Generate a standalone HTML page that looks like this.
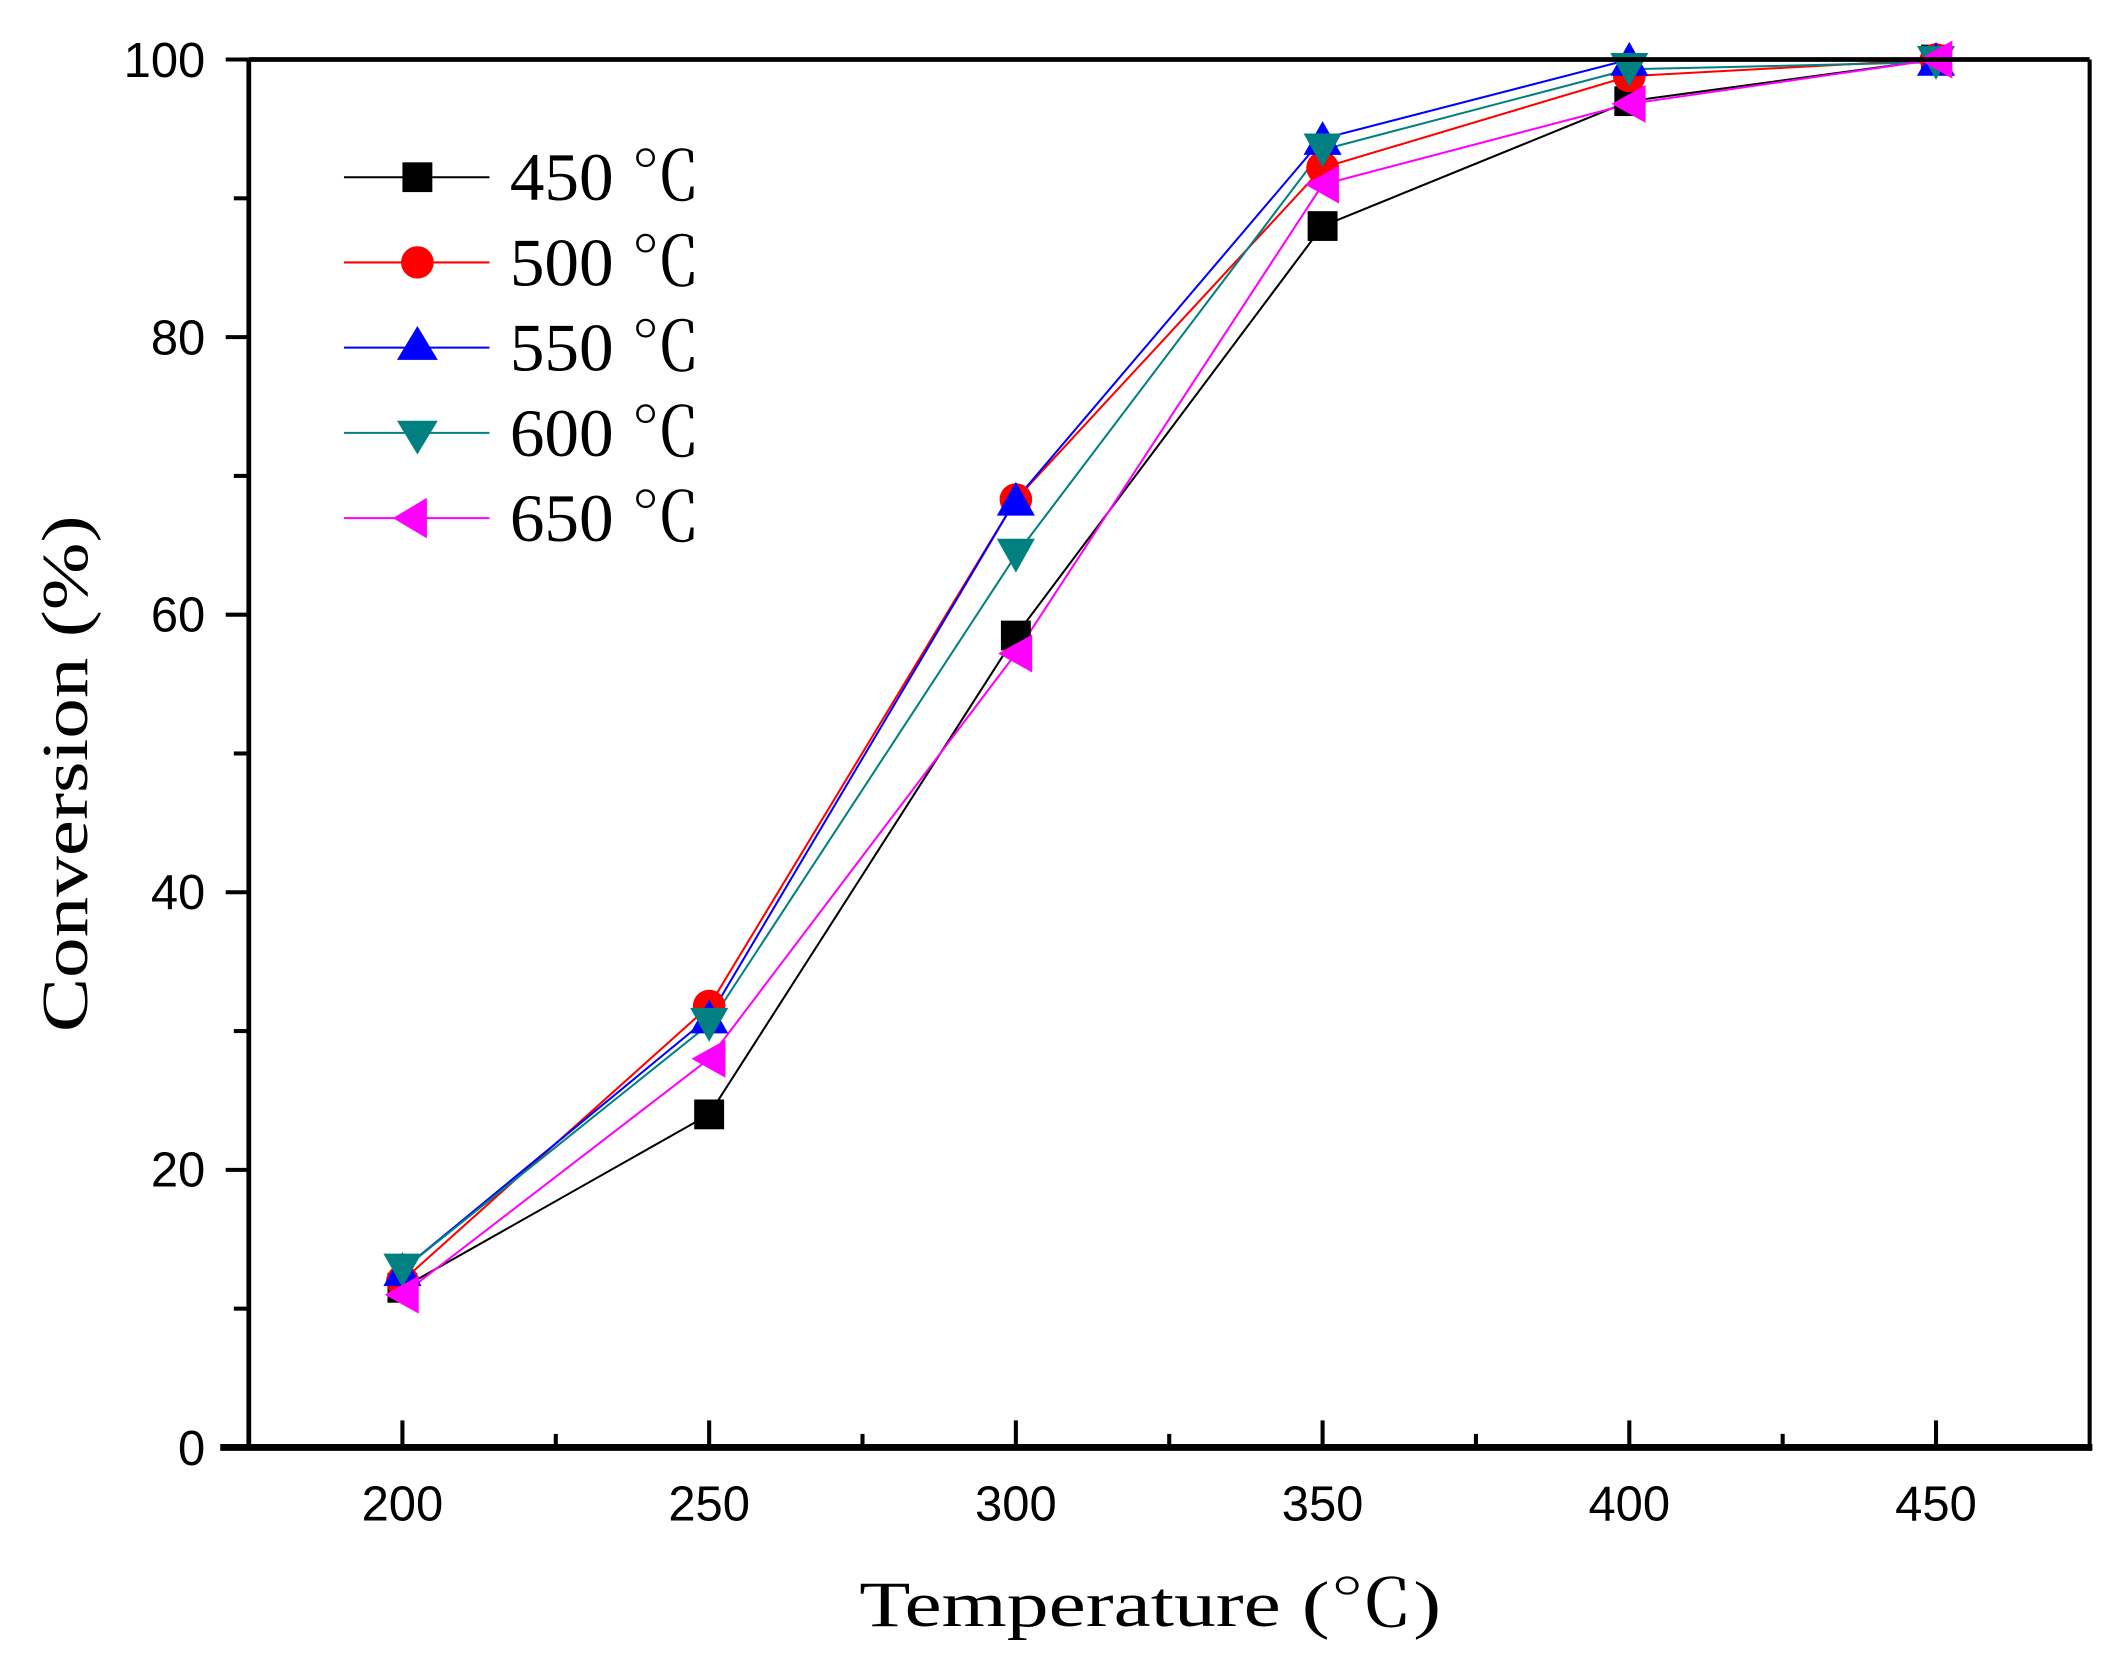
<!DOCTYPE html>
<html><head><meta charset="utf-8"><style>html,body{margin:0;padding:0;background:#fff}svg{display:block}</style></head>
<body>
<svg width="2125" height="1672" viewBox="0 0 1563 1236" preserveAspectRatio="none" xmlns="http://www.w3.org/2000/svg">
<rect width="1563" height="1236" fill="#fff"/>
<g id="data" fill="none" stroke-width="1.5">
<polyline stroke="#000" points="296,952 521.6,823.8 747.2,469.8 972.8,167.1 1198.4,74.8 1424,44"/>
<polyline stroke="#f00" points="296,946.9 521.6,743.7 747.2,369.2 972.8,124 1198.4,56.3 1424,44"/>
<polyline stroke="#00f" points="296,938.7 521.6,751.9 747.2,369.2 972.8,102.5 1198.4,44 1424,44"/>
<polyline stroke="#008080" points="296,938.7 521.6,757.1 747.2,410.3 972.8,110.7 1198.4,51.2 1424,46"/>
<polyline stroke="#f0f" points="296,957.1 521.6,782.7 747.2,483.1 972.8,136.4 1198.4,76.8 1424,44"/>
</g>
<g>
<!-- 450 squares -->
<g fill="#000">
<rect x="285" y="941" width="22" height="22"/><rect x="510.6" y="812.8" width="22" height="22"/><rect x="736.2" y="458.8" width="22" height="22"/><rect x="961.8" y="156.1" width="22" height="22"/><rect x="1187.4" y="63.8" width="22" height="22"/><rect x="1413" y="33" width="22" height="22"/>
</g>
<g fill="#f00">
<circle cx="296" cy="946.9" r="12"/><circle cx="521.6" cy="743.7" r="12"/><circle cx="747.2" cy="369.2" r="12"/><circle cx="972.8" cy="124" r="12"/><circle cx="1198.4" cy="56.3" r="12"/><circle cx="1424" cy="44" r="12"/>
</g>
<g fill="#00f">
<polygon points="296,925.7 282,950.7 310,950.7"/><polygon points="521.6,738.9 507.6,763.9 535.6,763.9"/><polygon points="747.2,356.2 733.2,381.2 761.2,381.2"/><polygon points="972.8,89.5 958.8,114.5 986.8,114.5"/><polygon points="1198.4,31 1184.4,56 1212.4,56"/><polygon points="1424,31 1410,56 1438,56"/>
</g>
<g fill="#008080">
<polygon points="296,951.7 282,926.7 310,926.7"/><polygon points="521.6,770.1 507.6,745.1 535.6,745.1"/><polygon points="747.2,423.3 733.2,398.3 761.2,398.3"/><polygon points="972.8,123.7 958.8,98.7 986.8,98.7"/><polygon points="1198.4,64.2 1184.4,39.2 1212.4,39.2"/><polygon points="1424,59 1410,34 1438,34"/>
</g>
<g fill="#f0f">
<polygon points="283,957.1 308,943.1 308,971.1"/><polygon points="508.6,782.7 533.6,768.7 533.6,796.7"/><polygon points="734.2,483.1 759.2,469.1 759.2,497.1"/><polygon points="959.8,136.4 984.8,122.4 984.8,150.4"/><polygon points="1185.4,76.8 1210.4,62.8 1210.4,90.8"/><polygon points="1411,44 1436,30 1436,58"/>
</g>
</g>
<!-- axes -->
<g stroke="#000" fill="none">
<line x1="183" y1="44" x2="1537" y2="44" stroke-width="3.5"/>
<line x1="183" y1="44" x2="183" y2="1071" stroke-width="3.5"/>
<line x1="1537" y1="44" x2="1537" y2="1071" stroke-width="3"/>
<line x1="162" y1="1070" x2="1539" y2="1070" stroke-width="5"/>
<g stroke-width="3">
<line x1="166" y1="44" x2="183" y2="44"/><line x1="166" y1="249.2" x2="183" y2="249.2"/><line x1="166" y1="454.4" x2="183" y2="454.4"/><line x1="166" y1="659.6" x2="183" y2="659.6"/><line x1="166" y1="864.8" x2="183" y2="864.8"/>
<line x1="172" y1="146.6" x2="183" y2="146.6"/><line x1="172" y1="351.8" x2="183" y2="351.8"/><line x1="172" y1="557" x2="183" y2="557"/><line x1="172" y1="762.2" x2="183" y2="762.2"/><line x1="172" y1="967.4" x2="183" y2="967.4"/>
<line x1="296" y1="1050" x2="296" y2="1070"/><line x1="521.6" y1="1050" x2="521.6" y2="1070"/><line x1="747.2" y1="1050" x2="747.2" y2="1070"/><line x1="972.8" y1="1050" x2="972.8" y2="1070"/><line x1="1198.4" y1="1050" x2="1198.4" y2="1070"/><line x1="1424" y1="1050" x2="1424" y2="1070"/>
<line x1="408.8" y1="1060" x2="408.8" y2="1070"/><line x1="634.4" y1="1060" x2="634.4" y2="1070"/><line x1="860" y1="1060" x2="860" y2="1070"/><line x1="1085.6" y1="1060" x2="1085.6" y2="1070"/><line x1="1311.2" y1="1060" x2="1311.2" y2="1070"/>
</g>
</g>
<g font-family="Liberation Sans, Arial, sans-serif" font-size="36" fill="#000">
<g text-anchor="end">
<text x="151" y="57">100</text><text x="151" y="262">80</text><text x="151" y="467">60</text><text x="151" y="672">40</text><text x="151" y="877">20</text><text x="151" y="1083">0</text>
</g>
<g text-anchor="middle">
<text x="296" y="1124">200</text><text x="521.6" y="1124">250</text><text x="747.2" y="1124">300</text><text x="972.8" y="1124">350</text><text x="1198.4" y="1124">400</text><text x="1424" y="1124">450</text>
</g>
</g>
<g font-family="Liberation Serif, 'Noto Serif CJK SC', serif" font-size="48" fill="#000">
<text x="632" y="1202" textLength="428" lengthAdjust="spacingAndGlyphs">Temperature (℃)</text>
<text transform="translate(64,763) rotate(-90)" textLength="382" lengthAdjust="spacingAndGlyphs">Conversion (%)</text>
</g>
<!-- legend -->
<g stroke-width="1.5">
<line x1="253" y1="131" x2="360" y2="131" stroke="#000"/>
<line x1="253" y1="194" x2="360" y2="194" stroke="#f00"/>
<line x1="253" y1="257" x2="360" y2="257" stroke="#00f"/>
<line x1="253" y1="320" x2="360" y2="320" stroke="#008080"/>
<line x1="253" y1="383" x2="360" y2="383" stroke="#f0f"/>
</g>
<rect x="296" y="120" width="22" height="22" fill="#000"/>
<circle cx="307" cy="194" r="12" fill="#f00"/>
<polygon points="307,241 292,266 322,266" fill="#00f"/>
<polygon points="307,336 292,311 322,311" fill="#008080"/>
<polygon points="289,383 314,368 314,398" fill="#f0f"/>
<g font-family="Liberation Serif, 'Noto Serif CJK SC', serif" font-size="50" fill="#000">
<text x="375" y="148" textLength="140" lengthAdjust="spacingAndGlyphs">450 ℃</text>
<text x="375" y="211" textLength="140" lengthAdjust="spacingAndGlyphs">500 ℃</text>
<text x="375" y="274" textLength="140" lengthAdjust="spacingAndGlyphs">550 ℃</text>
<text x="375" y="337" textLength="140" lengthAdjust="spacingAndGlyphs">600 ℃</text>
<text x="375" y="400" textLength="140" lengthAdjust="spacingAndGlyphs">650 ℃</text>
</g>
</svg>
</body></html>
